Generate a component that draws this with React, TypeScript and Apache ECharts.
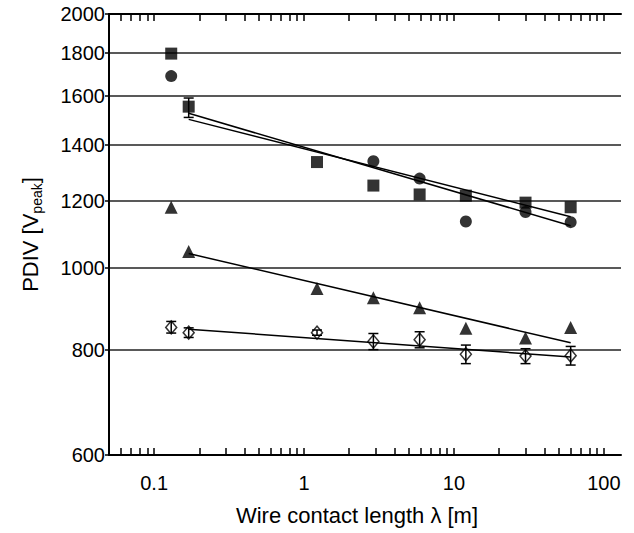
import React, { useEffect, useRef } from "react";
import * as echarts from "echarts";

// Tick labels / tick positions
const xLabelValues = [0.1, 1, 10, 100];
const xTickValues = [
  0.05, 0.06, 0.07, 0.08, 0.09, 0.1, 0.2, 0.3, 0.4, 0.5, 0.6, 0.7, 0.8, 0.9,
  1, 2, 3, 4, 5, 6, 7, 8, 9, 10, 20, 30, 40, 50, 60, 70, 80, 90, 100,
];
const yTickValues = [600, 800, 1000, 1200, 1400, 1600, 1800, 2000];

// Series values [wire contact length (m), PDIV (Vpeak)]
const squares = [
  [0.13, 1795], [0.17, 1553], [1.22, 1335], [2.9, 1252],
  [5.9, 1222], [12, 1218], [30, 1195], [60, 1180],
];
const squareErr = [[0.17, 1508, 1590]];
const circles = [
  [0.13, 1688], [2.9, 1338], [5.9, 1276], [12, 1135], [30, 1165], [60, 1133],
];
const triangles = [
  [0.13, 1180], [0.17, 1046], [1.22, 945], [2.9, 922],
  [5.9, 897], [12, 848], [30, 826], [60, 850],
];
const diamonds = [
  [0.13, 850], [0.17, 838], [1.22, 838], [2.9, 818],
  [5.9, 822], [12, 790], [30, 786], [60, 787],
];
const diamondErr = [
  [0.13, 837, 864], [0.17, 827, 849], [1.22, 832, 844], [2.9, 800, 836],
  [5.9, 804, 840], [12, 770, 810], [30, 770, 802], [60, 767, 807],
];
// Fitted lines (end points)
const fitA = [[0.17, 1525], [60, 1122]];
const fitB = [[0.17, 1500], [60, 1150]];
const fitTri = [[0.17, 1040], [60, 815]];
const fitDia = [[0.17, 846], [60, 784]];

const FONT = "'Liberation Sans', Arial, Helvetica, sans-serif";

function errorRender(params: any, api: any) {
  const x = api.value(0);
  const p1 = api.coord([x, api.value(1)]);
  const p2 = api.coord([x, api.value(2)]);
  const w = 5;
  const style = { stroke: "#000", lineWidth: 1.5 };
  return {
    type: "group",
    children: [
      { type: "line", shape: { x1: p1[0], y1: p1[1], x2: p2[0], y2: p2[1] }, style },
      { type: "line", shape: { x1: p1[0] - w, y1: p1[1], x2: p1[0] + w, y2: p1[1] }, style },
      { type: "line", shape: { x1: p2[0] - w, y1: p2[1], x2: p2[0] + w, y2: p2[1] }, style },
    ],
  };
}

export default function App() {
  const ref = useRef<HTMLDivElement>(null);
  useEffect(() => {
    if (!ref.current) return;
    const chart = echarts.init(ref.current, undefined, { renderer: "svg" });
    const lineSeries = (data: number[][]) => ({
      type: "line",
      data,
      symbol: "none",
      lineStyle: { color: "#000", width: 1.5 },
      z: 2,
    });
    chart.setOption({
      animation: false,
      backgroundColor: "#fff",
      textStyle: { fontFamily: FONT },
      grid: { left: 109, right: 13, top: 14, bottom: 78 },
      xAxis: [
        {
          type: "log",
          logBase: 10,
          min: 0.05,
          max: 130,
          position: "bottom",
          axisLine: { show: true, lineStyle: { color: "#000", width: 2 } },
          axisTick: { show: true, inside: true, length: 7, customValues: xTickValues, lineStyle: { color: "#000", width: 1.5 } },
          axisLabel: { show: true, customValues: xLabelValues, color: "#000", fontSize: 20, fontFamily: FONT, margin: 18, formatter: (v: number) => String(v) },
          splitLine: { show: false },
          minorTick: { show: false },
          name: "Wire contact length λ [m]",
          nameLocation: "middle",
          nameGap: 49,
          nameTextStyle: { color: "#000", fontSize: 22, fontFamily: FONT, padding: [0, 16, 0, 0] },
        },
        {
          type: "log",
          logBase: 10,
          min: 0.05,
          max: 130,
          position: "top",
          axisLine: { show: true, lineStyle: { color: "#000", width: 2 } },
          axisTick: { show: true, inside: true, length: 7, customValues: xTickValues, lineStyle: { color: "#000", width: 1.5 } },
          axisLabel: { show: false },
          splitLine: { show: false },
        },
      ],
      yAxis: {
        type: "log",
        logBase: 10,
        min: 600,
        max: 2000,
        axisLine: { show: true, lineStyle: { color: "#000", width: 2 } },
        axisTick: { show: true, inside: false, length: 4, customValues: yTickValues, lineStyle: { color: "#000", width: 1.5 } },
        axisLabel: { show: true, customValues: yTickValues, color: "#000", fontSize: 20, fontFamily: FONT, margin: 4, formatter: (v: number) => String(Math.round(v)) },
        splitLine: { show: true, lineStyle: { color: "#222", width: 1.5 } },
        name: "PDIV [V{sub|peak}]",
        nameLocation: "middle",
        nameGap: 65,
        nameRotate: 90,
        nameTextStyle: {
          color: "#000",
          fontSize: 22,
          fontFamily: FONT,
          lineHeight: 28,
          rich: {
            sub: { fontSize: 14, fontFamily: FONT, color: "#000", verticalAlign: "bottom", lineHeight: 14 },
          },
        },
      },
      series: [
        lineSeries(fitA),
        lineSeries(fitB),
        lineSeries(fitTri),
        lineSeries(fitDia),
        {
          type: "custom",
          renderItem: errorRender,
          data: squareErr,
          encode: { x: 0, y: [1, 2] },
          z: 3,
        },
        {
          type: "custom",
          renderItem: errorRender,
          data: diamondErr,
          encode: { x: 0, y: [1, 2] },
          z: 3,
        },
        {
          type: "scatter",
          data: squares,
          symbol: "rect",
          symbolSize: 12,
          itemStyle: { color: "#000" },
          z: 4,
        },
        {
          type: "scatter",
          data: circles,
          symbol: "circle",
          symbolSize: 12,
          itemStyle: { color: "#000" },
          z: 4,
        },
        {
          type: "scatter",
          data: triangles,
          symbol: "triangle",
          symbolSize: 13,
          itemStyle: { color: "#000" },
          z: 4,
        },
        {
          type: "scatter",
          data: diamonds,
          symbol: "diamond",
          symbolSize: [11, 13],
          itemStyle: { color: "rgba(0,0,0,0)", borderColor: "#000", borderWidth: 1.5 },
          z: 4,
        },
      ],
    });
    return () => chart.dispose();
  }, []);
  return (
    <div
      ref={ref}
      style={{ position: "fixed", left: 0, top: 0, width: 634, height: 533, background: "#fff" }}
    />
  );
}
